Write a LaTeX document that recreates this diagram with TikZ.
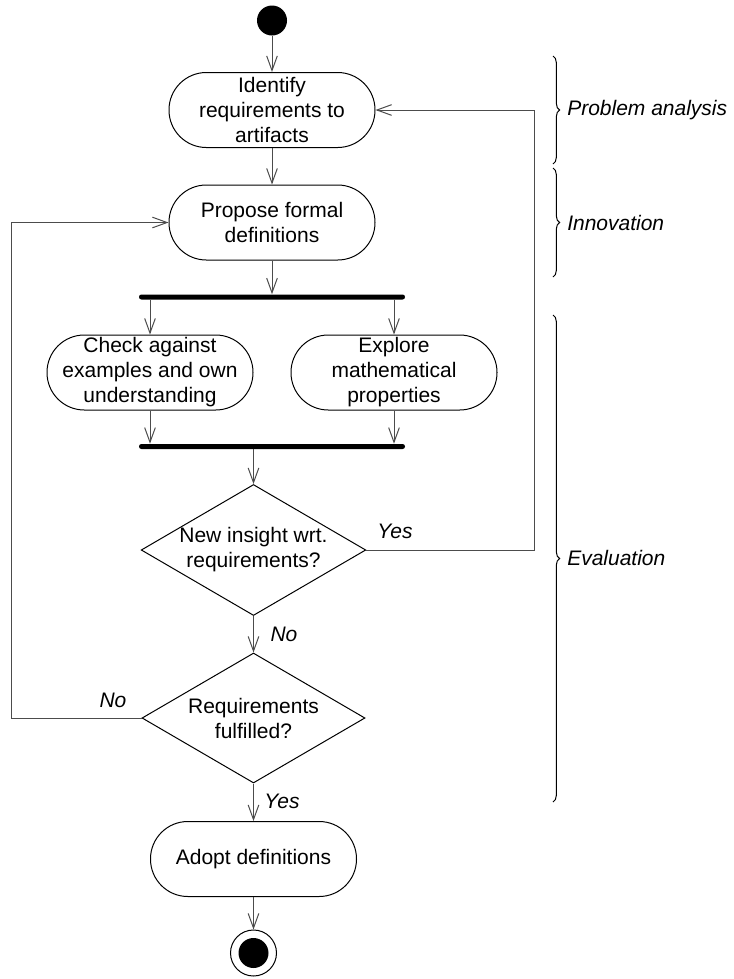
\documentclass[tikz,border=0pt]{standalone}
\usepackage{fontspec}
\setmainfont{Liberation Sans}
\usetikzlibrary{positioning}
\usetikzlibrary{shapes.geometric}
\usetikzlibrary{arrows.meta, decorations.pathreplacing}

\begin{document}
\begin{tikzpicture}[x=0.75pt,y=-0.75pt,
  font=\fontsize{15.75}{18.75}\selectfont,
  activity/.style={rectangle,draw=black,line width=0.75pt,rounded corners=28pt,minimum width=154.5pt,minimum height=56.25pt,align=center,inner sep=0pt},
  decision/.style={diamond,draw=black,line width=0.75pt,aspect=1.715,minimum width=167.25pt,minimum height=97.5pt,align=center,inner sep=0pt},
  syncbar/.style={rectangle,fill=black,rounded corners=1.8pt,minimum width=199.5pt,minimum height=3.75pt,inner sep=0pt},
  flow/.style={draw=black!70,line width=0.75pt,-{Straight Barb[length=11pt,width=8pt]}},
  guard/.style={font=\fontsize{15.75}{18.75}\selectfont\itshape},
  phase/.style={draw=black,line width=0.75pt,decorate,decoration={brace,amplitude=5pt}},
  phaselabel/.style={font=\fontsize{15.75}{18.75}\selectfont\itshape,anchor=west,inner sep=0pt}]
\useasboundingbox (0,0) rectangle (734,979);

\node[circle,fill=black,minimum size=22.5pt,inner sep=0pt] (start) at (272,20.5) {};
\node[activity] (identify) at (272,110) {Identify\\requirements to\\artifacts};
\node[activity] (propose) at (272,222.5) {Propose formal\\definitions};
\node[syncbar] (fork) at (272,297) {};
\node[activity] (check) at (150,372.5) {Check against\\examples and own\\understanding};
\node[activity] (explore) at (394,372.5) {Explore\\mathematical\\properties};
\node[syncbar] (join) at (272,446.5) {};
\node[decision] (insight) at (253.5,550) {New insight wrt.\\requirements?};
\node[decision] (fulfilled) at (253.5,718) {Requirements\\fulfilled?};
\node[activity] (adopt) at (253.5,859) {Adopt definitions};
\node[circle,draw=black,line width=0.75pt,minimum size=34.5pt,inner sep=0pt] (final) at (253.5,953) {};
\node[circle,fill=black,minimum size=22.5pt,inner sep=0pt] (finaldot) at (final) {};

\coordinate (yesturn) at (534,550);
\coordinate (noturn) at (11.5,718);

\draw[flow] (start) -- (identify);
\draw[flow] (identify) -- (propose);
\draw[flow] (propose) -- (fork);
\draw[flow] (fork.south -| check.north) -- (check.north);
\draw[flow] (fork.south -| explore.north) -- (explore.north);
\draw[flow] (check.south) -- (check.south |- join.north);
\draw[flow] (explore.south) -- (explore.south |- join.north);
\draw[flow] (join.south -| insight.north) -- (insight.north);
\draw[flow] (insight.east) -- (yesturn) |- (identify.east);
\draw[flow] (insight.south) -- (fulfilled.north);
\draw[flow] (fulfilled.west) -- (noturn) |- (propose.west);
\draw[flow] (fulfilled.south) -- (adopt.north);
\draw[flow] (adopt) -- (final);

\node[guard] (yesinsight) at (395,531) {Yes};
\node[guard] (noinsight) at (284,634) {No};
\node[guard] (nofulfilled) at (113,700) {No};
\node[guard] (yesfulfilled) at (282,801) {Yes};

\draw[phase] (553,56) -- (553,164);
\node[phaselabel] (analysis) at (567,110) {Problem analysis};
\draw[phase] (553,168) -- (553,277);
\node[phaselabel] (innovation) at (567,223) {Innovation};
\draw[phase] (553,315) -- (553,802);
\node[phaselabel] (evaluation) at (567,558) {Evaluation};

\end{tikzpicture}
\end{document}
